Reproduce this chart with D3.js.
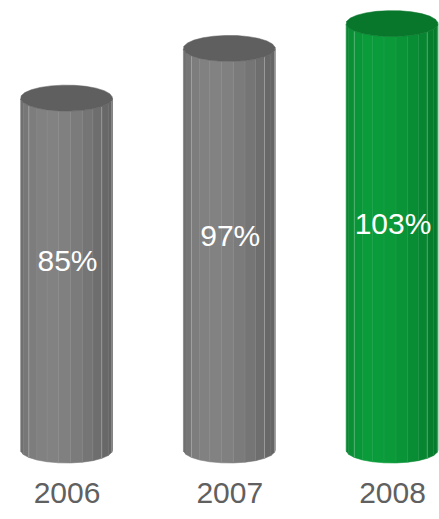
<!DOCTYPE html>
<html><head><meta charset="utf-8">
<script src="https://cdn.jsdelivr.net/npm/d3@7"></script>
<style>html,body{margin:0;padding:0;background:#fff;}svg{display:block;}</style>
</head><body>
<script>
const years = ["2006", "2007", "2008"];
const values = [85, 97, 103];
const valueLabels = ["85%", "97%", "103%"];
const highlight = [false, false, true];

const W = 439, H = 519;
const svg = d3.select("body").append("svg").attr("width", W).attr("height", H);

const x = d3.scalePoint().domain(years).range([66.5, 392]);
const y = d3.scaleLinear().domain([0, 100]).range([450, 36]);
const R = 46, RY = 13, N = 24, OFF = 10;

const palettes = {
  gray: {dark: "#656565", light: "#828282", top: "#5f5f5f"},
  green: {dark: "#067a2c", light: "#0a9c3a", top: "#08772c"}
};

const rad = d => d * Math.PI / 180;
const brightEdges = new Set([10, 40, 145]);

years.forEach((yr, i) => {
  const cx = x(yr), yt = y(values[i]), yb = y(0);
  const pal = highlight[i] ? palettes.green : palettes.gray;
  const g = svg.append("g");
  const pt = (a, cy) => [cx + R * Math.cos(rad(a)), cy + RY * Math.sin(rad(a))];
  // side faces (front only)
  for (let k = 0; k < N; k++) {
    let a0 = OFF + k * 360 / N, a1 = a0 + 360 / N;
    if (a0 >= 180) { a0 -= 360; a1 -= 360; }
    const mid = (a0 + a1) / 2;
    if (Math.sin(rad(mid)) <= 0) continue;
    const c0 = Math.max(a0, 0), c1 = Math.min(a1, 180);
    const t = Math.max(0, Math.cos(rad(mid - 110)));
    const col = d3.interpolateRgb(pal.dark, pal.light)(Math.pow(t, 1.5));
    const pts = [pt(c0, yt), pt(c1, yt), pt(c1, yb), pt(c0, yb)];
    g.append("path").attr("d", d3.line()(pts) + "Z").attr("fill", col).attr("stroke", col).attr("stroke-width", 0.6);
  }
  // edges
  d3.range(N).forEach(k => {
    const am = (OFF + k * 360 / N) % 360;
    if (am <= 0 || am >= 180) return;
    const p0 = pt(am, yt), p1 = pt(am, yb);
    g.append("line").attr("x1", p0[0]).attr("x2", p1[0]).attr("y1", p0[1]).attr("y2", p1[1])
      .attr("stroke", "#fff").attr("stroke-opacity", brightEdges.has(am) ? 0.28 : 0.06).attr("stroke-width", 1);
  });
  // top face
  const topPts = d3.range(N).map(k => pt(OFF + k * 360 / N, yt));
  g.append("path").attr("d", d3.line()(topPts) + "Z").attr("fill", pal.top).attr("stroke", pal.top).attr("stroke-width", 0.5);

  // value label
  g.append("text").attr("x", cx + 1).attr("y", (yt + yb) / 2 - 3)
    .attr("text-anchor", "middle").attr("fill", "#fff")
    .attr("font-family", "Liberation Sans, Arial, sans-serif").attr("font-size", 30)
    .text(valueLabels[i]);
});

// x axis labels
const xAxis = d3.axisBottom(x).tickSize(0).tickPadding(0);
const ax = svg.append("g").attr("transform", "translate(0,482)").call(xAxis);
ax.select(".domain").remove();
ax.selectAll("text").attr("dy", "0.71em")
  .attr("fill", "#606060").attr("font-size", 30).attr("font-family", "Liberation Sans, Arial, sans-serif");
</script>
</body></html>
